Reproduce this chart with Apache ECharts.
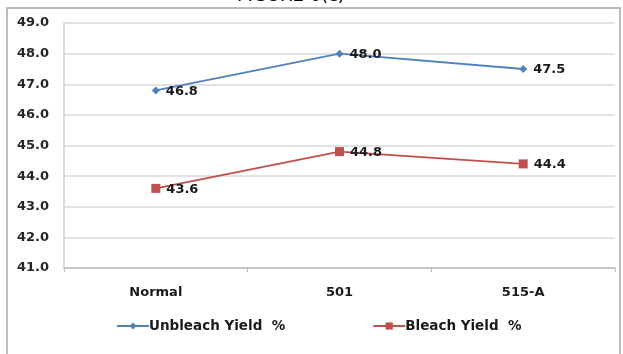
<!DOCTYPE html>
<html>
<head>
<meta charset="utf-8">
<script src="https://cdn.jsdelivr.net/npm/echarts@6/dist/echarts.min.js"></script>
<style>
  html, body { margin: 0; padding: 0; background: #ffffff; }
  #chart { width: 623px; height: 354px; }
</style>
</head>
<body>
<div id="chart"></div>
<script>
// Pulp yield by process
const categories = ['Normal', '501', '515-A'];
const unbleachYield = [46.8, 48.0, 47.5];
const bleachYield = [43.6, 44.8, 44.4];
const seriesNames = ['Unbleach Yield  %', 'Bleach Yield  %'];
const titleText = 'FIGURE 6(c)';

const chart = echarts.init(document.getElementById('chart'), null, { renderer: 'canvas' });

const labelStyle = {
  show: true,
  position: 'right',
  distance: 6,
  offset: [0, 1],
  color: '#1a1a1a',
  fontFamily: 'DejaVu Sans',
  fontSize: 13,
  fontWeight: 'bold',
  formatter: p => p.value.toFixed(1)
};

chart.setOption({
  backgroundColor: '#ffffff',
  animation: false,
  graphic: [
    {
      type: 'rect',
      shape: { x: 7, y: 8, width: 613, height: 360 },
      style: { fill: '#ffffff', stroke: '#a6a6a6', lineWidth: 1.5 },
      z: -10
    },
    {
      type: 'text',
      x: 291, y: 5,
      style: {
        text: titleText,
        fill: '#000000',
        font: '18px "DejaVu Sans"',
        align: 'center',
        verticalAlign: 'bottom'
      }
    }
  ],
  grid: { left: 64, right: 8, top: 23, bottom: 86 },
  legend: {
    bottom: 16,
    left: 111,
    itemGap: 87,
    itemWidth: 32,
    itemHeight: 9,
    textStyle: {
      fontFamily: 'DejaVu Sans',
      fontSize: 13.5,
      fontWeight: 'bold',
      color: '#1a1a1a',
      padding: [0, 0, 0, -5]
    },
    data: seriesNames
  },
  xAxis: {
    type: 'category',
    data: categories,
    boundaryGap: true,
    axisLine: { lineStyle: { color: '#bfbfbf', width: 1.5 } },
    axisTick: { show: true, length: 4, lineStyle: { color: '#bfbfbf' } },
    axisLabel: {
      margin: 18,
      color: '#1a1a1a',
      fontFamily: 'DejaVu Sans',
      fontSize: 13,
      fontWeight: 'bold'
    }
  },
  yAxis: {
    type: 'value',
    min: 41,
    max: 49,
    interval: 1,
    axisLine: { show: true, lineStyle: { color: '#d0d0d0', width: 1.5 } },
    axisTick: { show: false },
    splitLine: { lineStyle: { color: '#d9d9d9', width: 1.5 } },
    axisLabel: {
      margin: 15,
      color: '#262626',
      fontFamily: 'DejaVu Sans',
      fontSize: 13,
      fontWeight: 'bold',
      formatter: v => v.toFixed(1)
    }
  },
  series: [
    {
      name: seriesNames[0],
      type: 'line',
      data: unbleachYield,
      symbol: 'diamond',
      symbolSize: 8,
      color: '#4f81bd',
      lineStyle: { width: 2, color: '#4f81bd' },
      itemStyle: { color: '#4f81bd' },
      label: labelStyle,
      z: 3
    },
    {
      name: seriesNames[1],
      type: 'line',
      data: bleachYield,
      symbol: 'rect',
      symbolSize: 9,
      color: '#c0504d',
      lineStyle: { width: 2, color: '#c0504d' },
      itemStyle: { color: '#c0504d' },
      label: labelStyle,
      z: 3
    }
  ]
});
</script>
</body>
</html>
